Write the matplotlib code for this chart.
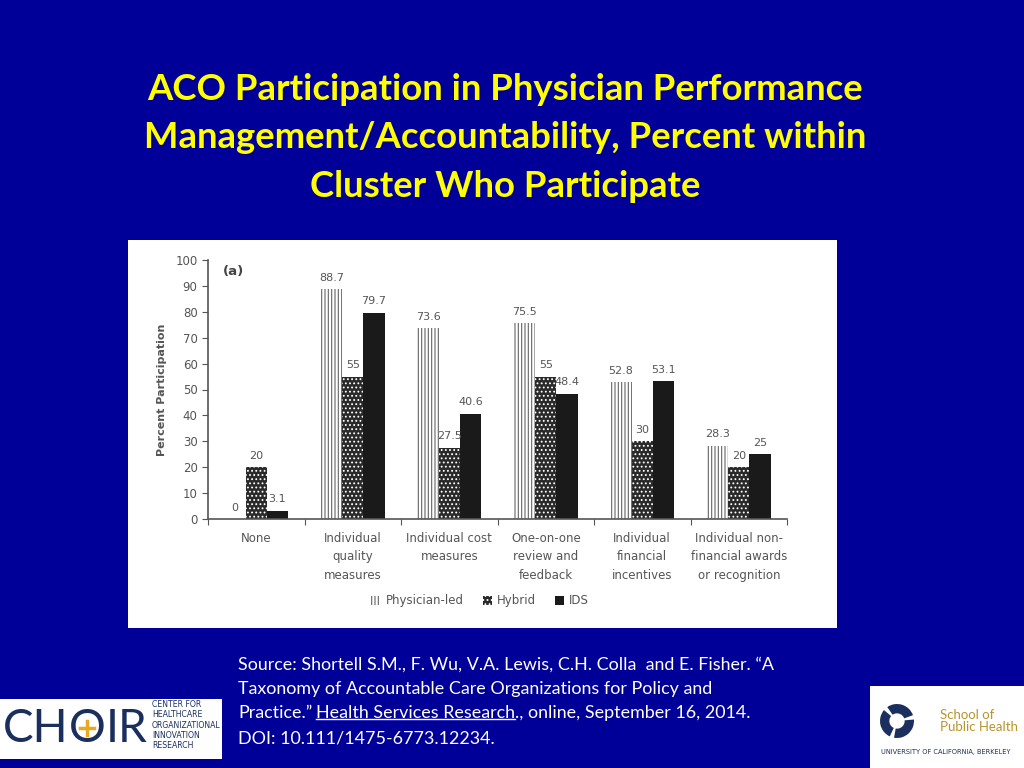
import matplotlib
matplotlib.use("Agg")
import matplotlib.pyplot as plt
import numpy as np
from matplotlib.patches import Rectangle, Wedge

# data
categories = ["None", "Individual\nquality\nmeasures", "Individual cost\nmeasures",
              "One-on-one\nreview and\nfeedback", "Individual\nfinancial\nincentives",
              "Individual non-\nfinancial awards\nor recognition"]
physician_led = [0, 88.7, 73.6, 75.5, 52.8, 28.3]
hybrid = [20, 55, 27.5, 55, 30, 20]
ids = [3.1, 79.7, 40.6, 48.4, 53.1, 25]
series_names = ["Physician-led", "Hybrid", "IDS"]
yticks = list(range(0, 101, 10))

title = ("ACO Participation in Physician Performance\n"
         "Management/Accountability, Percent within\n"
         "Cluster Who Participate")

BG = "#000099"
GRAY = "#555555"
NAVY = "#1b2f5e"

fig = plt.figure(figsize=(10.24, 7.68), dpi=100, facecolor=BG)

def fx(px):
    return px / 1024

def fy(py):
    return 1 - py / 768

# title
fig.text(fx(505), fy(138), title, ha="center", va="center", color="#FFFF00",
         fontsize=26.3, fontweight="bold", family="Lato", linespacing=1.57)

# white panel behind the chart
panel = fig.add_axes([fx(128), fy(628), fx(709), 388 / 768])
panel.set_facecolor("white")
panel.set_xticks([])
panel.set_yticks([])
for s in panel.spines.values():
    s.set_visible(False)

ax = fig.add_axes([fx(208), fy(519), fx(579), 259 / 768])
ax.set_facecolor("none")
x = np.arange(len(categories))
w = 0.22

plt.rcParams["hatch.linewidth"] = 0.8
b1 = ax.bar(x - w, physician_led, w, facecolor="white", edgecolor="#666666",
            hatch="|||||", linewidth=0, label=series_names[0])
b2 = ax.bar(x, hybrid, w, facecolor="#2a2a2a", edgecolor="white",
            hatch="....", linewidth=0, label=series_names[1])
b3 = ax.bar(x + w, ids, w, facecolor="#1a1a1a", edgecolor="#1a1a1a",
            linewidth=0, label=series_names[2])

for bars, vals in [(b1, physician_led), (b2, hybrid), (b3, ids)]:
    for rect, v in zip(bars, vals):
        lbl = "%g" % v
        ax.text(rect.get_x() + rect.get_width() / 2, v + 2.5, lbl,
                ha="center", va="bottom", fontsize=8, color=GRAY, family="DejaVu Sans")

ax.set_xlim(-0.5, len(categories) - 0.5)
ax.set_ylim(0, 100)
ax.set_yticks(yticks)
ax.tick_params(axis="y", labelsize=8.5, colors=GRAY, length=4, width=0.8)
ax.set_xticks(np.arange(len(categories) + 1) - 0.5)
ax.set_xticklabels([])
ax.tick_params(axis="x", length=4, width=0.8, colors=GRAY, direction="out")
for c, lab in enumerate(categories):
    ax.text(c, -5, lab, ha="center", va="top", fontsize=8.5, color=GRAY,
            linespacing=1.55, family="DejaVu Sans")
for side in ["top", "right"]:
    ax.spines[side].set_visible(False)
for side in ["left", "bottom"]:
    ax.spines[side].set_color(GRAY)
    ax.spines[side].set_linewidth(1.2)
ax.set_ylabel("Percent Participation", fontsize=8, fontweight="bold", color=GRAY, labelpad=6)
ax.text(0.025, 0.98, "(a)", transform=ax.transAxes, fontsize=9.5, fontweight="bold",
        color="#444444", va="top")

leg = ax.legend(loc="upper center", bbox_to_anchor=(0.47, -0.25), ncol=3, frameon=False,
                fontsize=8.5, handlelength=0.8, handleheight=0.8, handletextpad=0.4,
                columnspacing=1.6)
for t in leg.get_texts():
    t.set_color(GRAY)

# source text
src_lines = ["Source: Shortell S.M., F. Wu, V.A. Lewis, C.H. Colla  and E. Fisher. \u201cA",
             "Taxonomy of Accountable Care Organizations for Policy and",
             None,
             "DOI: 10.111/1475-6773.12234."]
src_y = [665, 689, 713, 738]
for line, yy in zip(src_lines, src_y):
    if line is not None:
        fig.text(fx(238), fy(yy), line, color="white", fontsize=12.9, family="Lato",
                 va="center", ha="left")

fig.canvas.draw()
renderer = fig.canvas.get_renderer()
parts = ["Practice.\u201d", "Health Services Research", "., online, September 16, 2014."]
cur = 238
for i, p in enumerate(parts):
    t = fig.text(fx(cur), fy(713), p, color="white", fontsize=12.9, family="Lato",
                 va="center", ha="left")
    bb = t.get_window_extent(renderer)
    if i == 1:
        fig.add_artist(plt.Line2D([bb.x0 / 1024, bb.x1 / 1024],
                                  [bb.y0 / 768 + 0.002, bb.y0 / 768 + 0.002],
                                  color="white", lw=1, transform=fig.transFigure))
    cur = bb.x1 + (4 if i == 0 else 0)

# CHOIR logo
fig.add_artist(Rectangle((0, fy(759)), fx(222), 60 / 768, transform=fig.transFigure,
                         facecolor="white", edgecolor="none"))
logo_kw = dict(color=NAVY, fontsize=33, family="Lato", va="center", ha="left")
tch = fig.text(fx(3), fy(729), "CH", **logo_kw)
bch = tch.get_window_extent(renderer)
to = fig.text(bch.x1 / 1024, fy(729), "O", **logo_kw)
bo = to.get_window_extent(renderer)
fig.text(bo.x1 / 1024, fy(729), "IR", **logo_kw)
ox = (bo.x0 + bo.x1) / 2 / 1024
oy = fy(728)
fig.add_artist(plt.Line2D([ox - 0.007, ox + 0.007], [oy, oy], color="#e8a921",
                          lw=2.5, transform=fig.transFigure))
fig.add_artist(plt.Line2D([ox, ox], [oy - 0.0095, oy + 0.0095], color="#e8a921",
                          lw=2.5, transform=fig.transFigure))
fig.text(fx(152), fy(725), "CENTER FOR\nHEALTHCARE\nORGANIZATIONAL\nINNOVATION\nRESEARCH",
         color=NAVY, fontsize=5.6, family="DejaVu Sans", va="center", ha="left",
         linespacing=1.15)

# Berkeley logo
fig.add_artist(Rectangle((fx(870), 0), fx(154), 82 / 768, transform=fig.transFigure,
                         facecolor="white", edgecolor="none"))
icon = fig.add_axes([fx(878), fy(738), fx(38), 34 / 768])
icon.set_zorder(3)
icon.set_xlim(-1, 1)
icon.set_ylim(-1, 1)
icon.set_aspect("equal")
icon.axis("off")
for ang in [20, 140, 260]:
    icon.add_patch(Wedge((0, 0), 1.0, ang, ang + 105, width=0.55, facecolor=NAVY,
                         edgecolor="none"))
fig.text(fx(940), fy(721), "School of\nPublic Health", color="#b8952a", fontsize=9.5,
         family="Lato", va="center", ha="left", linespacing=1.05)
fig.text(fx(946), fy(752), "UNIVERSITY OF CALIFORNIA, BERKELEY", color=NAVY,
         fontsize=4.8, family="DejaVu Sans", va="center", ha="center")

fig.savefig("out.png", dpi=100, facecolor=BG)
